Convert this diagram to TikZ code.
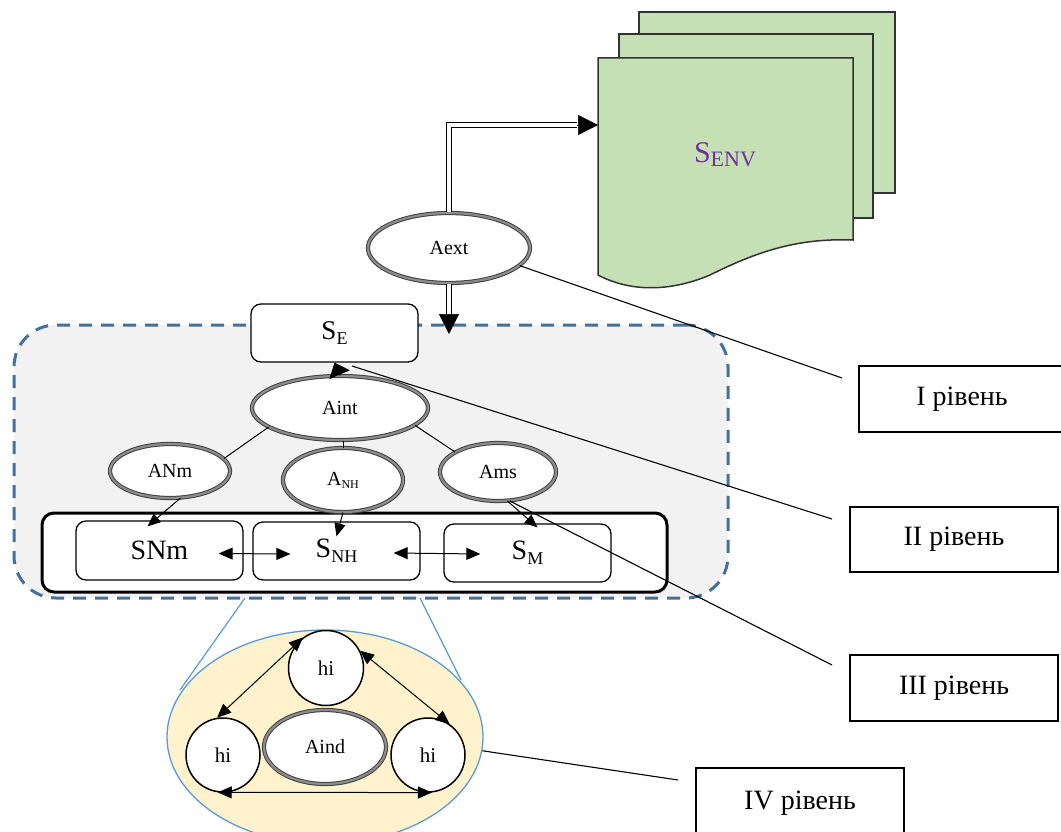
\documentclass[tikz,border=0pt]{standalone}
\usepackage{fontspec}
\setmainfont{Liberation Serif}
\usetikzlibrary{arrows.meta,shapes.geometric,calc}
\definecolor{envgreen}{HTML}{C5E0B4}
\definecolor{envpurple}{HTML}{7030A0}
\definecolor{dashblue}{HTML}{41719C}
\definecolor{lightblue}{HTML}{5B9BD5}
\definecolor{cream}{HTML}{FFF2CC}
\definecolor{regiongray}{HTML}{F2F2F2}
\newcommand{\myfs}[1]{\fontsize{#1}{#1}\selectfont}
\begin{document}
\begin{tikzpicture}[x=1pt,y=-1pt,
  dblell/.style={ellipse, draw=black!75, line width=1pt, double=black!45, double distance=2.2pt, fill=white, inner sep=0pt, font=\myfs{20}},
  sbox/.style={rectangle, rounded corners=10pt, draw=black, line width=1.3pt, fill=white, inner sep=0pt, minimum width=167pt, minimum height=59pt},
  lvl/.style={rectangle, draw=black, line width=1.3pt, fill=white, inner sep=0pt, minimum width=208pt, minimum height=66pt, font=\myfs{28}},
  hicirc/.style={circle, draw=black, line width=1.5pt, fill=white, minimum size=75pt, inner sep=0pt, font=\myfs{21}},
  envsheet/.style={draw=black!80, line width=1.5pt, fill=envgreen},
  arr/.style={line width=1pt, -{Triangle[length=13pt,width=11pt]}},
  darr/.style={line width=1pt, {Triangle[length=14pt,width=12pt]}-{Triangle[length=14pt,width=12pt]}},
  dbl/.style={draw=black, line width=1.1pt, double=white, double distance=4pt},
  bighead/.style={line width=0.5pt, -{Triangle[length=20pt,width=20pt]}},
  lvlline/.style={line width=1.1pt},
  zoomline/.style={draw=lightblue, line width=1.2pt}
]
\clip (0,0) rectangle (1061,832);
\fill[white] (0,0) rectangle (1061,832);

% environment documents
\draw[envsheet] (639,12) rectangle (895,193);
\draw[envsheet] (619,34) rectangle (873,218);
\draw[envsheet] (598,58) -- (853,58) -- (853,240) .. controls (800,238) and (760,250) .. (710,275) .. controls (670,292) and (630,292) .. (598,275) -- cycle;
\node[text=envpurple, inner sep=0pt] (senv) at (725,155) {\myfs{30}S\raisebox{-4pt}{\myfs{22}ENV}};
\coordinate (envin) at (598,125);

% level II/III region
\node[draw=dashblue, line width=3pt, dash pattern=on 13pt off 9pt, fill=regiongray, rounded corners=42pt, minimum width=714pt, minimum height=273pt, inner sep=0pt] (reg) at (371,461.5) {};

% subsystem frame
\node[rectangle, rounded corners=12pt, draw=black, line width=3pt, fill=white, minimum width=625pt, minimum height=79pt, inner sep=0pt] (sys) at (354.5,552.5) {};
\node[sbox] (snm) at (159.5,550.5) {\myfs{28}SNm};
\node[sbox, minimum height=58pt] (snh) at (336.5,551) {\myfs{28}S\raisebox{-5pt}{\myfs{18}NH}};
\node[sbox, minimum height=58pt] (sm) at (527.5,553) {\myfs{28}S\raisebox{-5pt}{\myfs{18}M}};

% SE
\node[sbox, minimum height=58pt] (se) at (334.5,333) {\myfs{27}S\raisebox{-5pt}{\myfs{18}E}};

% agents
\node[dblell, minimum width=162pt, minimum height=70pt] (aext) at (449,248) {Aext};
\node[dblell, minimum width=176pt, minimum height=64pt] (aint) at (340,408) {Aint};
\node[dblell, minimum width=120pt, minimum height=54pt] (anm) at (170,471) {ANm};
\node[dblell, minimum width=120pt, minimum height=64pt] (anh) at (343,480) {A\raisebox{-3pt}{\myfs{12}NH}};
\node[dblell, minimum width=116pt, minimum height=58pt] (ams) at (498,472) {Ams};

% zoom to level IV
\coordinate (zl1) at (245,598);
\coordinate (zl2) at (180,690);
\coordinate (zr1) at (420,598);
\coordinate (zr2) at (461,680);
\draw[zoomline] (zl1) -- (zl2);
\draw[zoomline] (zr1) -- (zr2);
\node[ellipse, draw=lightblue, line width=1.3pt, fill=cream, minimum width=316pt, minimum height=214pt, inner sep=0pt] (zoomell) at (325,737) {};
\node[hicirc] (ht) at (326,668) {hi};
\node[hicirc, minimum size=74pt] (hl) at (223,755) {hi};
\node[hicirc, minimum size=74pt] (hr) at (428,755) {hi};
\node[dblell, minimum width=122pt, minimum height=74pt] (aind) at (325,747) {Aind};
\draw[darr] (ht.127) -- (hl.99);
\draw[darr] (ht.27) -- (hr.55);
\draw[darr] (hl.262) -- (hr.276);

% connectors
\draw[line width=1pt] (aint.195) -- (anm.13);
\draw[line width=1pt] (aint.347) -- (ams.155);
\draw[line width=1pt] (anh.north) -- (anh.north |- aint.south);
\draw[arr] (anm.291) -- ([xshift=-12pt,yshift=-6pt]snm.north);
\draw[arr] (anh.south) -- ([yshift=-15pt]snh.north);
\draw[arr] (ams.288) -- ([xshift=10pt,yshift=-4pt]sm.north);
\draw[line width=1pt, -{Triangle[length=13pt,width=22pt]}] (aint.north) -- (se.south);
\draw[darr] ([xshift=-25pt,yshift=-3pt]snm.east) -- ([xshift=38pt,yshift=-3pt]snh.west);
\draw[darr] ([xshift=-27pt,yshift=-2pt]snh.east) -- ([xshift=37pt,yshift=-1pt]sm.west);

% double arrows from Aext
\coordinate (headA) at (577,125);
\draw[dbl] (aext.north) |- (headA);
\draw[bighead] (headA) -- (envin);
\coordinate (headB) at (449,314);
\coordinate (seIn) at (449,334);
\draw[dbl] (aext.south) -- (headB);
\draw[bighead] (headB) -- (seIn);

% level boxes
\node[lvl, minimum width=206pt] (l1) at (962,399) {I рівень};
\node[lvl, minimum height=65pt] (l2) at (954,539.5) {II рівень};
\node[lvl] (l3) at (954,688) {III рівень};
\node[lvl, minimum height=70pt] (l4) at (800,803) {IV рівень};

% level lines
\coordinate (c1) at (842,378);
\draw[lvlline] (aext.346) -- (c1);
\coordinate (c2a) at (832,519);
\coordinate (c2b) at (352,366);
\draw[lvlline] (c2a) -- (c2b);
\coordinate (c3) at (832,665);
\draw[lvlline] (c3) -- (ams.292);
\coordinate (c4) at (678,780);
\draw[lvlline] (zoomell.355) -- (c4);
\end{tikzpicture}
\end{document}
